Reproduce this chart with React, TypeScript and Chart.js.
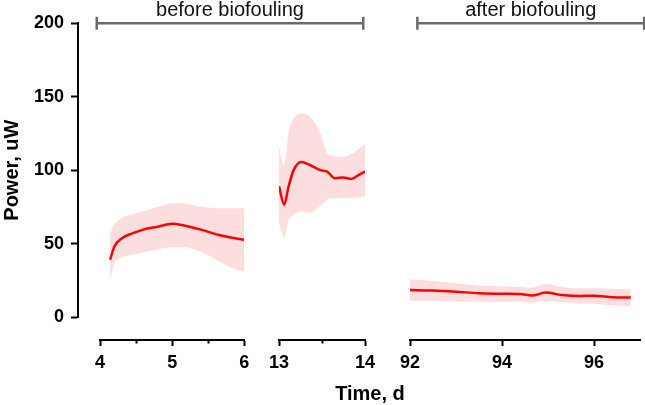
import React, { useEffect, useRef } from 'react';
import { Chart, registerables } from 'chart.js';

Chart.register(...registerables);

const FONT = "'Liberation Sans', Arial, Helvetica, sans-serif";

// ---- Data: before biofouling, days 4–6 ----
const seg1Days = [4.14, 4.2, 4.3, 4.45, 4.6, 4.8, 5.0, 5.15, 5.4, 5.65, 5.85, 6.0];
const seg1Mean = [39, 48, 53.5, 57, 59.5, 61.5, 63.5, 62.5, 59.5, 55.8, 53.8, 52.5];
const seg1Upper = [57, 63, 67.5, 70, 72, 75, 77.5, 77.5, 75, 74, 74, 74];
const seg1Lower = [25, 37, 40.5, 42.5, 44, 46, 47.5, 47.5, 44.5, 38, 33, 31];

// ---- Data: before biofouling, days 13–14 ----
const seg2Days = [13.0, 13.06, 13.11, 13.17, 13.26, 13.36, 13.48, 13.56, 13.65, 13.75, 13.84, 13.92, 14.0];
const seg2Mean = [89, 76.5, 88.5, 100, 105.5, 103.5, 100, 99, 94.5, 95, 94, 96.5, 99];
const seg2Upper = [116, 103, 125, 135, 138.5, 136.5, 125, 111.5, 109.5, 109, 111, 114, 118];
const seg2Lower = [64, 54.5, 66, 69.5, 72, 71, 76, 80, 81, 81, 81, 81.5, 82];

// ---- Data: after biofouling, days 92–97 ----
const seg3Days = [92.0, 92.5, 93.0, 93.5, 94.0, 94.4, 94.65, 94.95, 95.3, 95.7, 96.0, 96.4, 96.8];
const seg3Mean = [18.4, 18.0, 17.2, 16.2, 15.8, 15.6, 14.6, 16.6, 15.0, 14.3, 14.5, 13.5, 13.2];
const seg3Upper = [25.7, 24.5, 23, 21.5, 21, 20.5, 20, 22.5, 20.5, 19.5, 19.5, 19, 18.9];
const seg3Lower = [11.1, 11, 10.6, 10.4, 10.4, 10.3, 9.8, 11.1, 10, 9.3, 9, 8, 7.5];

// ---- Axes ----
const seg1Range = [4, 6];
const seg2Range = [13, 14];
const seg3Range = [92, 97];
const seg1Ticks = [4, 4.5, 5, 5.5, 6];
const seg1Labels = [4, 5, 6];
const seg2Ticks = [13, 13.5, 14];
const seg2Labels = [13, 14];
const seg3Ticks = [92, 94, 96];
const seg3Labels = [92, 94, 96];
const yTicks = [0, 50, 100, 150, 200];
const yRange = [0, 200];

const periodLabels = ['before biofouling', 'after biofouling'];
const periodFrom = [3.955, 92.16];
const periodTo = [13.98, 97.09];

const X_TITLE = 'Time, d';
const Y_TITLE = 'Power, uW';

const LINE_RED = '#ff0000';
const BAND = 'rgb(253, 222, 222)';

const W = 645;
const H = 405;
const PLOT_TOP = 23.3;
const ZERO_PX = 317;
const XAXIS_PX = 340;

const pts = (xs: number[], ys: number[]) => xs.map((x, i) => ({ x, y: ys[i] }));

function segmentConfig(
  days: number[], mean: number[], upper: number[], lower: number[],
  range: number[], ticks: number[], labels: number[],
  padLeft: number, padRight: number, plugins: any[] = []
): any {
  const k = (ZERO_PX - PLOT_TOP) / (yRange[1] - yRange[0]);
  const yMin = yRange[0] - (XAXIS_PX - ZERO_PX) / k;
  return {
    type: 'line',
    data: {
      datasets: [
        {
          data: pts(days, mean),
          borderColor: LINE_RED,
          borderWidth: 2.5,
          pointRadius: 0,
          fill: false,
          cubicInterpolationMode: 'monotone',
        },
        {
          data: pts(days, upper),
          borderWidth: 0,
          borderColor: 'rgba(0,0,0,0)',
          backgroundColor: BAND,
          pointRadius: 0,
          fill: '+1',
          cubicInterpolationMode: 'monotone',
        },
        {
          data: pts(days, lower),
          borderWidth: 0,
          borderColor: 'rgba(0,0,0,0)',
          pointRadius: 0,
          fill: false,
          cubicInterpolationMode: 'monotone',
        },
      ],
    },
    options: {
      animation: false,
      responsive: false,
      events: [],
      layout: { padding: { left: padLeft, right: padRight, top: PLOT_TOP, bottom: 0 } },
      plugins: { legend: { display: false }, tooltip: { enabled: false } },
      scales: {
        x: {
          type: 'linear',
          min: range[0],
          max: range[1],
          afterFit: (s: any) => { s.height = H - XAXIS_PX; },
          afterBuildTicks: (s: any) => { s.ticks = ticks.map((v) => ({ value: v })); },
          ticks: {
            autoSkip: false,
            maxRotation: 0,
            padding: 6,
            color: '#000',
            font: { family: FONT, size: 18, weight: 'bold' },
            callback: (v: any) => (labels.includes(Number(v)) ? String(v) : ''),
          },
          grid: {
            display: true,
            drawOnChartArea: false,
            drawTicks: true,
            tickLength: 6,
            tickWidth: 2,
            tickColor: '#000',
            tickBorderDash: (ctx: any) => (ctx.tick && labels.includes(ctx.tick.value) ? [] : [2.5, 30]),
          },
          border: { display: true, color: '#000', width: 2 },
        },
        y: { type: 'linear', display: false, min: yMin, max: yRange[1] },
      },
    },
    plugins,
  };
}

export default function App() {
  const yRef = useRef<HTMLCanvasElement>(null);
  const c1Ref = useRef<HTMLCanvasElement>(null);
  const c2Ref = useRef<HTMLCanvasElement>(null);
  const c3Ref = useRef<HTMLCanvasElement>(null);

  useEffect(() => {
    const charts: Chart[] = [];

    // y axis chart
    const yChart = new Chart(yRef.current as HTMLCanvasElement, {
      type: 'line',
      data: { datasets: [] },
      options: {
        animation: false,
        responsive: false,
        events: [],
        layout: { padding: { left: 0, right: W - 100, top: PLOT_TOP, bottom: H - ZERO_PX } },
        plugins: { legend: { display: false }, tooltip: { enabled: false } },
        scales: {
          x: { type: 'linear', display: false, min: 0, max: 1 },
          y: {
            type: 'linear',
            min: yRange[0],
            max: yRange[1],
            afterFit: (s: any) => { s.width = 78; },
            afterBuildTicks: (s: any) => { s.ticks = yTicks.map((v) => ({ value: v })); },
            ticks: {
              padding: 7,
              color: '#000',
              font: { family: FONT, size: 18, weight: 'bold' },
            },
            grid: {
              display: true,
              drawOnChartArea: false,
              drawTicks: true,
              tickLength: 7,
              tickWidth: 2,
              tickColor: '#000',
            },
            border: { display: true, color: '#000', width: 2 },
            title: {
              display: true,
              text: Y_TITLE,
              color: '#000',
              font: { family: FONT, size: 20, weight: 'bold' },
              padding: { top: 0, bottom: 0 },
            },
          },
        },
      } as any,
    });
    charts.push(yChart);

    const c1 = new Chart(c1Ref.current as HTMLCanvasElement,
      segmentConfig(seg1Days, seg1Mean, seg1Upper, seg1Lower, seg1Range, seg1Ticks, seg1Labels, 100, W - 244.3));
    const c2 = new Chart(c2Ref.current as HTMLCanvasElement,
      segmentConfig(seg2Days, seg2Mean, seg2Upper, seg2Lower, seg2Range, seg2Ticks, seg2Labels, 279, W - 365));
    charts.push(c1, c2);

    const annotations = {
      id: 'annotations',
      afterDraw(chart: any) {
        const segs = [c1, c2, chart];
        const dayToPx = (d: number) => {
          const s = segs.find((c: any) => d >= c.scales.x.min - 1 && d <= c.scales.x.max + 1) || chart;
          return s.scales.x.getPixelForValue(d);
        };
        const ctx = chart.ctx as CanvasRenderingContext2D;
        const yTop = chart.scales.y.getPixelForValue(yRange[1]);
        ctx.save();
        periodLabels.forEach((label, i) => {
          const x1 = dayToPx(periodFrom[i]);
          const x2 = dayToPx(periodTo[i]);
          ctx.strokeStyle = '#6b6b6b';
          ctx.lineWidth = 2.5;
          ctx.beginPath();
          ctx.moveTo(x1, yTop);
          ctx.lineTo(x2, yTop);
          ctx.moveTo(x1, yTop - 6.5);
          ctx.lineTo(x1, yTop + 6.5);
          ctx.moveTo(x2, yTop - 6.5);
          ctx.lineTo(x2, yTop + 6.5);
          ctx.stroke();
          ctx.fillStyle = '#111';
          ctx.font = `20px ${FONT}`;
          ctx.textAlign = 'center';
          ctx.textBaseline = 'alphabetic';
          ctx.fillText(label, (x1 + x2) / 2, yTop - 7.5);
        });
        // shared x-axis title across the broken axis
        const xl = c1.scales.x.left;
        const xr = chart.scales.x.right;
        ctx.fillStyle = '#000';
        ctx.font = `bold 20px ${FONT}`;
        ctx.textAlign = 'center';
        ctx.textBaseline = 'alphabetic';
        ctx.fillText(X_TITLE, (xl + xr) / 2, chart.scales.x.bottom - 5);
        ctx.restore();
      },
    };

    const c3 = new Chart(c3Ref.current as HTMLCanvasElement,
      segmentConfig(seg3Days, seg3Mean, seg3Upper, seg3Lower, seg3Range, seg3Ticks, seg3Labels, 410, W - 640, [annotations]));
    charts.push(c3);

    return () => { charts.forEach((c) => c.destroy()); };
  }, []);

  const cs: React.CSSProperties = { position: 'absolute', left: 0, top: 0, width: W, height: H };
  return (
    <div style={{ position: 'fixed', left: 0, top: 0, width: W, height: H, background: '#fff' }}>
      <canvas ref={yRef} width={W} height={H} style={cs} />
      <canvas ref={c1Ref} width={W} height={H} style={cs} />
      <canvas ref={c2Ref} width={W} height={H} style={cs} />
      <canvas ref={c3Ref} width={W} height={H} style={cs} />
    </div>
  );
}
